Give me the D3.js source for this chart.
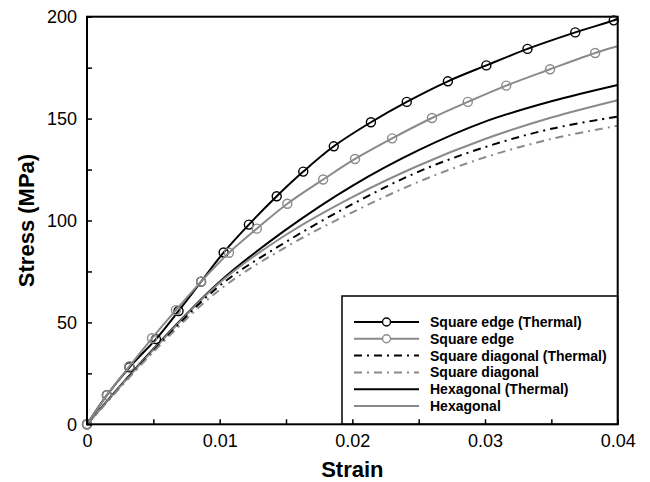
<!DOCTYPE html>
<html>
<head>
<meta charset="utf-8">
<script src="https://cdn.jsdelivr.net/npm/d3@7"></script>
<style>
  body { margin: 0; background: #fff; }
  svg { font-family: 'Liberation Sans', Arial, sans-serif; }
</style>
</head>
<body>
<div id="chart"><svg></svg></div>
<script>
// strain grid used for the smooth curves without markers
const strainGrid = [0, 0.005, 0.01, 0.015, 0.02, 0.025, 0.03, 0.035, 0.04]
const hexThermal = [0, 37, 70, 95.5, 117, 134.5, 148.5, 158.5, 166.5]
const hexagonal = [0, 36.5, 69.5, 93, 111.5, 127, 140, 150.5, 159]
const sqDiagThermal = [0, 36, 68, 89.5, 108, 124, 136, 145, 151]
const sqDiagonal = [0, 35.5, 66, 87, 104, 119, 131, 140, 146.5]

// marker points [strain, stress] for the square edge curves
const sqEdgeThermalPts = [
  [0, 0], [0.0015, 14.3], [0.0032, 28], [0.0052, 41.8], [0.0069, 55.6], [0.0086, 70],
  [0.0103, 84.3], [0.0122, 98], [0.0143, 111.9], [0.0163, 124], [0.0186, 136.4],
  [0.0214, 148.2], [0.0241, 158.2], [0.0272, 168.3], [0.0301, 176.1], [0.0332, 184.2],
  [0.0368, 192.3], [0.0397, 198.2]
]
const sqEdgeThermalEnd = [0.04, 199]
const sqEdgePts = [
  [0, 0], [0.0015, 14.3], [0.0032, 28.5], [0.0049, 42.2], [0.0067, 56], [0.0086, 70],
  [0.0107, 84.2], [0.0128, 96], [0.0151, 108.2], [0.0178, 120.1], [0.0202, 130.2],
  [0.0230, 140.3], [0.0260, 150.3], [0.0287, 158.2], [0.0316, 166.2], [0.0349, 174.2],
  [0.0383, 182.2]
]
const sqEdgeEnd = [0.04, 185.5]

const xTicks = [0, 0.01, 0.02, 0.03, 0.04]
const xMinorTicks = [0.005, 0.015, 0.025, 0.035]
const yTicks = [0, 50, 100, 150, 200]
const yMinorTicks = [25, 75, 125, 175]

const legendLabels = [
  'Square edge (Thermal)', 'Square edge', 'Square diagonal (Thermal)',
  'Square diagonal', 'Hexagonal (Thermal)', 'Hexagonal'
]

const BLACK = '#000'
const GRAY = '#8a8a8a'
const DASHDOT = '8,5,2,5'

const margin = { top: 16.7, right: 32.3, bottom: 57.7, left: 87 }
const width = 650 - margin.left - margin.right
const height = 482 - margin.top - margin.bottom

const svg = d3.select('#chart').select('svg')
  .attr('width', 650)
  .attr('height', 482)

const g = svg.append('g')
  .attr('transform', 'translate(' + margin.left + ',' + margin.top + ')')

const x = d3.scaleLinear().domain([0, 0.04]).range([0, width])
const y = d3.scaleLinear().domain([0, 200]).range([height, 0])

const line = d3.line()
  .x((d) => x(d[0]))
  .y((d) => y(d[1]))
  .curve(d3.curveCatmullRom.alpha(0.5))

const series = [
  { pts: strainGrid.map((s, i) => [s, hexThermal[i]]), color: BLACK, dash: null, marker: false },
  { pts: strainGrid.map((s, i) => [s, hexagonal[i]]), color: GRAY, dash: null, marker: false },
  { pts: strainGrid.map((s, i) => [s, sqDiagThermal[i]]), color: BLACK, dash: DASHDOT, marker: false },
  { pts: strainGrid.map((s, i) => [s, sqDiagonal[i]]), color: GRAY, dash: DASHDOT, marker: false },
  { pts: sqEdgeThermalPts.concat([sqEdgeThermalEnd]), markers: sqEdgeThermalPts, color: BLACK, dash: null, marker: true },
  { pts: sqEdgePts.concat([sqEdgeEnd]), markers: sqEdgePts, color: GRAY, dash: null, marker: true }
]

series.forEach((s) => {
  g.append('path')
    .datum(s.pts)
    .attr('d', line)
    .attr('fill', 'none')
    .attr('stroke', s.color)
    .attr('stroke-width', 2)
    .attr('stroke-dasharray', s.dash)

  if (s.marker) {
    g.selectAll(null)
      .data(s.markers)
      .enter()
      .append('circle')
      .attr('cx', (d) => x(d[0]))
      .attr('cy', (d) => y(d[1]))
      .attr('r', 4.5)
      .attr('fill', 'none')
      .attr('stroke', s.color)
      .attr('stroke-width', 1.4)
  }
})

// legend box in the lower right corner
const legend = g.append('g')
  .attr('transform', 'translate(' + (342 - margin.left) + ',' + (296 - margin.top) + ')')

legend.append('rect')
  .attr('width', width - (342 - margin.left))
  .attr('height', height - (296 - margin.top))
  .attr('fill', '#fff')
  .attr('stroke', '#000')
  .attr('stroke-width', 1.5)

const legendStyle = [
  { color: BLACK, dash: null, marker: true },
  { color: GRAY, dash: null, marker: true },
  { color: BLACK, dash: DASHDOT, marker: false },
  { color: GRAY, dash: DASHDOT, marker: false },
  { color: BLACK, dash: null, marker: false },
  { color: GRAY, dash: null, marker: false }
]

legendLabels.forEach((label, i) => {
  const row = legend.append('g')
    .attr('transform', 'translate(0,' + (26 + i * 16.8) + ')')

  row.append('line')
    .attr('x1', 12)
    .attr('x2', 77)
    .attr('stroke', legendStyle[i].color)
    .attr('stroke-width', 2)
    .attr('stroke-dasharray', legendStyle[i].dash)

  if (legendStyle[i].marker) {
    row.append('circle')
      .attr('cx', 44.5)
      .attr('r', 4)
      .attr('fill', '#fff')
      .attr('stroke', legendStyle[i].color)
      .attr('stroke-width', 1.4)
  }

  row.append('text')
    .attr('x', 88)
    .attr('dy', '0.36em')
    .attr('font-size', 14)
    .attr('font-weight', 'bold')
    .text(label)
})

// axes with inward ticks
const xAxis = d3.axisBottom(x)
  .tickValues(xTicks)
  .tickSizeInner(-5)
  .tickSizeOuter(0)
  .tickPadding(10)
  .tickFormat((d) => d === 0 ? '0' : d3.format('.2f')(d).replace(/0$/, ''))

g.append('g')
  .attr('class', 'x axis')
  .attr('transform', 'translate(0,' + height + ')')
  .call(xAxis)

g.append('g')
  .attr('transform', 'translate(0,' + height + ')')
  .call(d3.axisBottom(x).tickValues(xMinorTicks).tickSizeInner(-5).tickSizeOuter(0).tickFormat(''))

g.append('g')
  .attr('class', 'y axis')
  .call(d3.axisLeft(y).tickValues(yTicks).tickSizeInner(-5).tickSizeOuter(0).tickPadding(10))

g.append('g')
  .call(d3.axisLeft(y).tickValues(yMinorTicks).tickSizeInner(-5).tickSizeOuter(0).tickFormat(''))

g.selectAll('.domain').remove()
g.selectAll('.tick line').attr('stroke', '#000').attr('stroke-width', 1.5)
g.selectAll('.tick text')
  .attr('font-size', 18)
  .attr('font-family', "'Liberation Sans', Arial, sans-serif")
  .attr('fill', '#000')

// plot frame
g.append('rect')
  .attr('width', width)
  .attr('height', height)
  .attr('fill', 'none')
  .attr('stroke', '#000')
  .attr('stroke-width', 2)

// axis titles
svg.append('text')
  .attr('x', margin.left + width / 2)
  .attr('y', 477)
  .attr('text-anchor', 'middle')
  .attr('font-size', 22)
  .attr('font-weight', 'bold')
  .text('Strain')

svg.append('text')
  .attr('transform', 'translate(34,' + (margin.top + height / 2) + ') rotate(-90)')
  .attr('text-anchor', 'middle')
  .attr('font-size', 22)
  .attr('font-weight', 'bold')
  .text('Stress (MPa)')
</script>
</body>
</html>
